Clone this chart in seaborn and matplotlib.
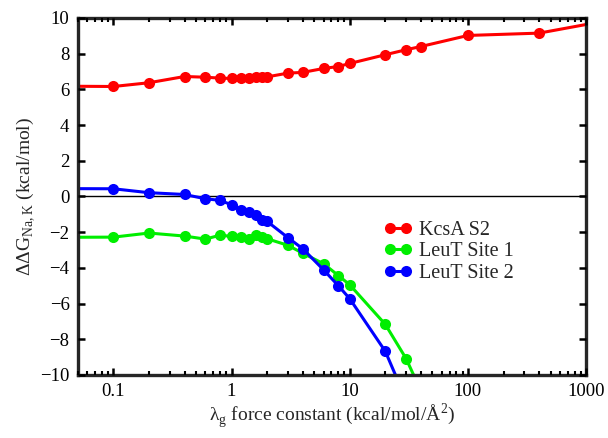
import numpy as np
import pandas as pd
import matplotlib
matplotlib.use('Agg')
import matplotlib.pyplot as plt
from matplotlib.ticker import LogLocator, NullFormatter
import seaborn as sns

# ---------------------------------------------------------------------
# data
# ---------------------------------------------------------------------
lam_kcsa = [0.01, 0.1, 0.2, 0.4, 0.6, 0.8, 1.0, 1.2, 1.4, 1.6, 1.8, 2.0,
            3, 4, 6, 8, 10, 20, 30, 40, 100, 400, 2000]
dg_kcsa = [6.2, 6.16, 6.37, 6.72, 6.68, 6.63, 6.61, 6.63, 6.63, 6.68, 6.72, 6.7,
           6.91, 6.95, 7.17, 7.28, 7.45, 7.94, 8.22, 8.4, 9.02, 9.15, 10.0]

lam_leut = [0.01, 0.1, 0.2, 0.4, 0.6, 0.8, 1.0, 1.2, 1.4, 1.6, 1.8, 2.0,
            3, 4, 6, 8, 10, 20, 30, 40]
dg_site1 = [-2.3, -2.28, -2.05, -2.22, -2.39, -2.17, -2.24, -2.28, -2.37, -2.15, -2.28, -2.37,
            -2.74, -3.18, -3.77, -4.43, -4.95, -7.17, -9.09, -10.9]
dg_site2 = [0.45, 0.43, 0.21, 0.11, -0.13, -0.22, -0.47, -0.75, -0.88, -1.03, -1.34, -1.4,
            -2.31, -2.93, -4.11, -5.0, -5.73, -8.68, -11.4, -13.5]

series_names = ['KcsA S2', 'LeuT Site 1', 'LeuT Site 2']
series_colors = ['#ff0000', '#00ee00', '#0000ff']

df = pd.concat([
    pd.DataFrame({'lam': lam_kcsa, 'dg': dg_kcsa, 'series': series_names[0]}),
    pd.DataFrame({'lam': lam_leut, 'dg': dg_site1, 'series': series_names[1]}),
    pd.DataFrame({'lam': lam_leut, 'dg': dg_site2, 'series': series_names[2]}),
])

# ---------------------------------------------------------------------
# style
# ---------------------------------------------------------------------
sns.set_style('ticks')
plt.rcParams['font.family'] = ['Liberation Serif', 'DejaVu Serif']
plt.rcParams['mathtext.fontset'] = 'custom'
plt.rcParams['mathtext.rm'] = 'Liberation Serif'

fig = plt.figure(figsize=(6.08, 4.38), dpi=100)
ax = fig.add_axes([0.128, 0.144, 0.836, 0.815])

ax.axhline(0, color='black', lw=1.0, zorder=1)

sns.lineplot(data=df, x='lam', y='dg', hue='series', hue_order=series_names,
             palette=series_colors, marker='o', markersize=8, markeredgewidth=0,
             linewidth=2.2, sort=False, estimator=None, ax=ax)

ax.set_xscale('log')
ax.set_xlim(0.05, 1000)
ax.set_ylim(-10, 10)
ax.set_yticks(np.arange(-10, 11, 2))
ax.set_xticks([0.1, 1, 10, 100, 1000])
ax.set_xticklabels(['0.1', '1', '10', '100', '1000'])
ax.xaxis.set_minor_locator(LogLocator(base=10, subs=np.arange(2, 10), numticks=20))
ax.xaxis.set_minor_formatter(NullFormatter())

for s in ax.spines.values():
    s.set_linewidth(2.4)
ax.tick_params(which='both', direction='in', top=True, right=True, labelsize=13.5,
               length=0, colors='black')
ax.tick_params(which='major', pad=6)

ax.set_xlabel('λ$_{\\mathrm{g}}$ force constant (kcal/mol/Å$^{2}$)', fontsize=14, labelpad=1)
ax.set_ylabel('ΔΔG$_{\\mathrm{Na,K}}$ (kcal/mol)', fontsize=14, labelpad=2)

ax.legend(loc='upper left', bbox_to_anchor=(0.575, 0.47), frameon=False, numpoints=2,
          handlelength=1.4, handletextpad=0.35, labelspacing=0.1, fontsize=14.5,
          borderpad=0.2)

# ---------------------------------------------------------------------
# inward tick marks on all four sides, at the locator positions
# ---------------------------------------------------------------------
x0, x1 = ax.get_xlim()
y0, y1 = ax.get_ylim()
xmaj = [v for v in ax.xaxis.get_majorticklocs() if x0 <= v <= x1]
xmin = [v for v in ax.xaxis.get_minorticklocs() if x0 <= v <= x1]
ymaj = [v for v in ax.yaxis.get_majorticklocs() if y0 <= v <= y1]

xt = ax.get_xaxis_transform()
yt = ax.get_yaxis_transform()
tick_kw = dict(colors='black', clip_on=False, zorder=6)
for locs, ln, lw in [(xmaj, 0.0196, 1.8), (xmin, 0.0112, 1.5)]:
    ax.vlines(locs, 0, ln, transform=xt, linewidth=lw, **tick_kw)
    ax.vlines(locs, 1 - ln, 1, transform=xt, linewidth=lw, **tick_kw)
ax.hlines(ymaj, 0, 0.0138, transform=yt, linewidth=1.8, **tick_kw)
ax.hlines(ymaj, 1 - 0.0138, 1, transform=yt, linewidth=1.8, **tick_kw)

ax.set_xlim(0.05, 1000)
ax.set_ylim(-10, 10)

plt.savefig('out.png', dpi=100)
